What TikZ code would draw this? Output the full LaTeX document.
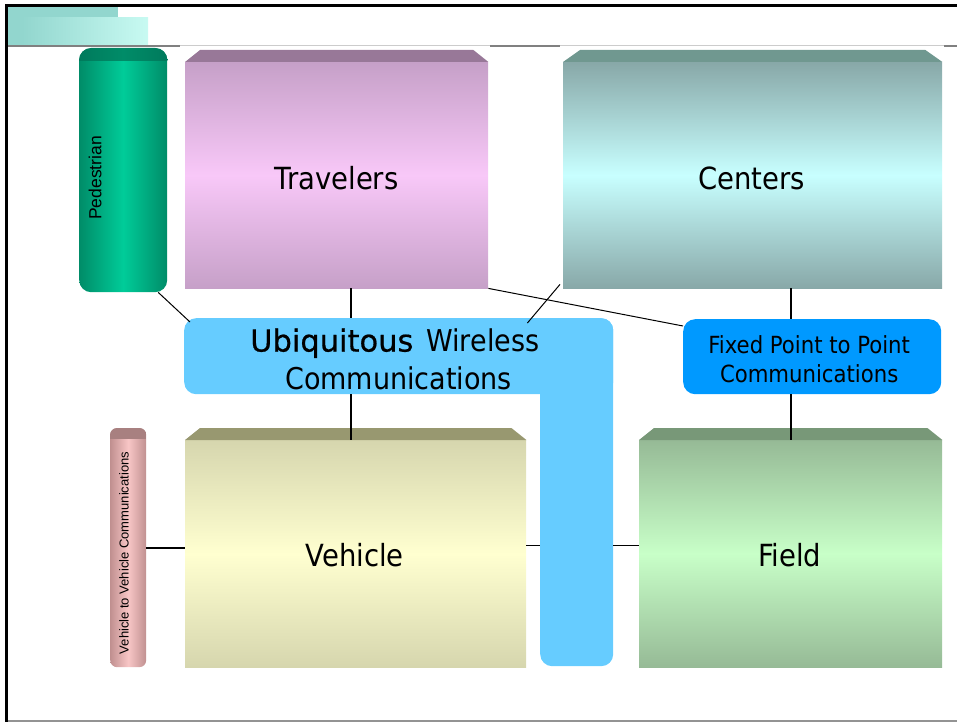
\documentclass[tikz,border=0pt]{standalone}
\usepackage{fontspec}
\usetikzlibrary{calc}
\newfontfamily\tah{DejaVu Sans Condensed}
\newfontfamily\verd{DejaVu Sans}[FakeBold=0.6]
\newfontfamily\ari{Liberation Sans}

\definecolor{travmid}{HTML}{F8C8F8}
\definecolor{travedge}{HTML}{C6A0C8}
\definecolor{travtop}{HTML}{987898}
\definecolor{centmid}{HTML}{C8FFFF}
\definecolor{centedge}{HTML}{88A8A8}
\definecolor{centtop}{HTML}{709890}
\definecolor{vehmid}{HTML}{FFFFD0}
\definecolor{vehedge}{HTML}{D6D6AE}
\definecolor{vehtop}{HTML}{989870}
\definecolor{fldmid}{HTML}{C8FFC8}
\definecolor{fldedge}{HTML}{96BA96}
\definecolor{fldtop}{HTML}{789878}
\definecolor{pedmid}{HTML}{00CC99}
\definecolor{pededge}{HTML}{008C68}
\definecolor{pedlid}{HTML}{007A5C}
\definecolor{v2vmid}{HTML}{F8C6C6}
\definecolor{v2vedge}{HTML}{C09090}
\definecolor{v2vlid}{HTML}{A88080}
\definecolor{ubq}{HTML}{66CCFF}
\definecolor{fixc}{HTML}{0099FF}
\definecolor{hdrA}{HTML}{92D6CE}
\definecolor{hdrC}{HTML}{C8FAF2}

\tikzset{
  panel/.style={anchor=north west, inner sep=0pt},
  paneltext/.style={inner sep=0pt, text=black, font=\tah\fontsize{30.5}{36}\selectfont},
  pill/.style={anchor=north west, inner sep=0pt, draw=none},
  thinlink/.style={line width=1pt, black},
  thicklink/.style={line width=2pt, black},
}

\begin{document}
\begin{tikzpicture}[x=1pt,y=-1pt]
\useasboundingbox (0,0) rectangle (957,722);

% header strip
\fill[hdrA] (8,7) rectangle (118,46);
\shade[left color=hdrA, right color=hdrC] (22,18) rectangle (148,46);

% frame
\draw[line width=3pt] (5,6) -- (957,6);
\draw[line width=3pt] (6.5,4.5) -- (6.5,722);
\draw[gray!85, line width=2pt] (8,720.5) -- (957,720.5);
\draw[gray!40, line width=1pt] (8,46) -- (957,46);
\draw[gray, line width=1.5pt] (8,46) -- (180,46) (490,46) -- (560,46) (944,46) -- (957,46);

% pedestrian pillar
\node[pill, minimum width=88pt, minimum height=244pt, rounded corners=12pt,
      left color=pededge, right color=pededge, middle color=pedmid] (ped) at (79,48) {};
\begin{scope}
  \clip[rounded corners=12pt] (ped.north west) rectangle (ped.south east);
  \shade[left color=pedlid, right color=pedlid, middle color=pededge]
    (ped.north west) rectangle ($(ped.north east)+(0,13)$);
\end{scope}
\node[rotate=90, font=\ari\fontsize{17.5}{20}\selectfont, inner sep=0pt] (pedtxt) at (95,178) {Pedestrian};

% vehicle-to-vehicle pillar
\node[pill, minimum width=36pt, minimum height=239pt, rounded corners=7pt,
      left color=v2vedge, right color=v2vedge, middle color=v2vmid] (v2v) at (110,428) {};
\begin{scope}
  \clip[rounded corners=7pt] (v2v.north west) rectangle (v2v.south east);
  \fill[v2vlid] (v2v.north west) rectangle ($(v2v.north east)+(0,11)$);
\end{scope}
\node[rotate=90, font=\ari\fontsize{13}{15}\selectfont, inner sep=0pt] (v2vtxt) at (124,553)
  {Vehicle to Vehicle Communications};

% main panels (body + bevelled lid)
\node[panel, minimum width=303pt, minimum height=226pt,
      top color=travedge, bottom color=travedge, middle color=travmid] (trav) at (185,62) {};
\fill[travtop] (trav.north west) -- ++(15,-12) -- ($(trav.north east)+(-15,-12)$) -- (trav.north east) -- cycle;
\node[paneltext] (travtxt) at ($(trav.center)+(0,3)$) {Travelers};

\node[panel, minimum width=379pt, minimum height=226pt,
      top color=centedge, bottom color=centedge, middle color=centmid] (cent) at (563,62) {};
\fill[centtop] (cent.north west) -- ++(17,-12) -- ($(cent.north east)+(-17,-12)$) -- (cent.north east) -- cycle;
\node[paneltext] (centtxt) at ($(cent.center)+(-1,3)$) {Centers};

\node[panel, minimum width=341pt, minimum height=227pt,
      top color=vehedge, bottom color=vehedge, middle color=vehmid] (veh) at (185,440) {};
\fill[vehtop] (veh.north west) -- ++(15,-12) -- ($(veh.north east)+(-15,-12)$) -- (veh.north east) -- cycle;
\node[paneltext] (vehtxt) at ($(veh.center)+(-1,1)$) {Vehicle};

\node[panel, minimum width=303pt, minimum height=227pt,
      top color=fldedge, bottom color=fldedge, middle color=fldmid] (fld) at (639,440) {};
\fill[fldtop] (fld.north west) -- ++(15,-12) -- ($(fld.north east)+(-15,-12)$) -- (fld.north east) -- cycle;
\node[paneltext] (fldtxt) at ($(fld.center)+(-1,1)$) {Field};

% wireless L-shaped band
\node[pill, minimum width=73pt, minimum height=348pt, rounded corners=12pt, fill=ubq] (ubleg) at (540,318) {};
\node[pill, minimum width=429pt, minimum height=76pt, rounded corners=12pt, fill=ubq] (ubiq) at (184,318) {};
\node[align=center, inner sep=0pt, font=\tah\fontsize{30}{38}\selectfont] (ubtxt)
  at ($(ubiq.center)+(0,3)$)
  {{\verd\fontsize{30.5}{38}\selectfont Ubiquitous}\hspace{13pt}Wireless\hspace*{8pt}\\Communications};

% fixed point-to-point link
\node[pill, minimum width=258pt, minimum height=75pt, rounded corners=12pt, fill=fixc] (fix) at (683,319) {};
\node[align=center, inner sep=0pt, font=\tah\fontsize{23.6}{29}\selectfont] (fixtxt)
  at ($(fix.center)+(-3,2)$) {Fixed Point to Point\\Communications};

% connector guides
\coordinate (axA) at (351,0);
\coordinate (axB) at (791,0);
\coordinate (rowC) at (0,545);
\coordinate (rowD) at (0,548);

% connectors
\draw[thinlink] (ped.-74) -- ($(ubiq.north west)+(6,4)$);
\draw[thicklink] (trav.south -| axA) -- (ubiq.north -| axA);
\draw[thinlink] (trav.south east) -- ($(fix.north west)+(0,7)$);
\draw[thinlink] ($(cent.south west)+(-3,-4)$) -- ($(ubiq.north east)+(-86,5)$);
\draw[thicklink] (cent.south -| axB) -- (fix.north -| axB);
\draw[line width=1.3pt] (fix.south -| axB) -- (fld.north -| axB);
\draw[thicklink] (ubiq.south -| axA) -- (veh.north -| axA);
\draw[thicklink] (v2v.east |- rowD) -- (veh.west |- rowD);
\draw[thinlink] (veh.east |- rowC) -- (ubleg.west |- rowC);
\draw[thinlink] (ubleg.east |- rowC) -- (fld.west |- rowC);
\end{tikzpicture}
\end{document}
